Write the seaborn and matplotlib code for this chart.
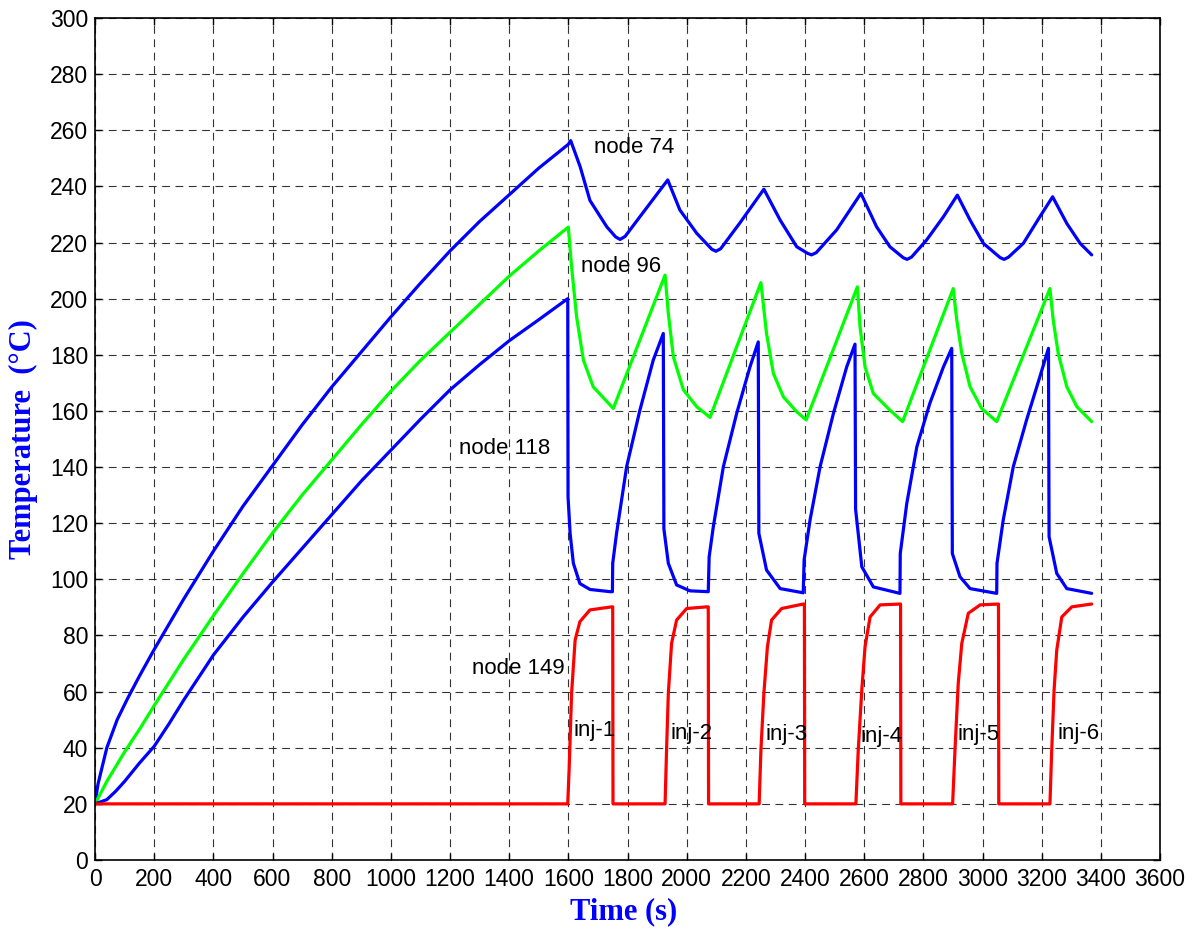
import pandas as pd
import seaborn as sns
import matplotlib.pyplot as plt

# node 74 (upper blue)
t74 = [0, 10, 40, 75, 110, 150, 200, 300, 400, 500, 600, 700, 800, 900, 1000, 1100, 1200, 1300, 1400, 1500, 1600,
       1608, 1640, 1673, 1730, 1760, 1775, 1792, 1842, 1936, 1977, 2034, 2085, 2099, 2115, 2180, 2261, 2316, 2372,
       2408, 2422, 2438, 2507, 2589, 2642, 2687, 2732, 2745, 2760, 2811, 2868, 2915, 2958, 3003, 3060, 3073, 3088,
       3138, 3194, 3237, 3285, 3330, 3369]
T74 = [20, 27, 40, 50, 57.5, 65.5, 75, 93, 110, 126, 140.5, 155, 168.5, 181, 193.5, 205.5, 217, 227.5, 237, 246.5, 255,
       256.3, 247, 235, 225.6, 222, 221.1, 222.2, 229.2, 242.3, 231.6, 223.3, 217.6, 216.9, 217.8, 227, 239, 228, 218.5,
       216.2, 215.6, 216.4, 224.5, 237.5, 225.6, 218.5, 214.6, 214, 214.8, 220.9, 229.2, 236.9, 228, 219.7, 214.6, 214, 214.8,
       219.7, 229.2, 236.3, 226.8, 219.7, 215.6]

# node 96 (green)
t96 = [0, 40, 100, 150, 200, 300, 400, 500, 600, 700, 800, 900, 1000, 1100, 1200, 1300, 1400, 1500, 1600,
       1611, 1628, 1651, 1684, 1752, 1927, 1938, 1955, 1989, 2034, 2079, 2251, 2270, 2293, 2327, 2372, 2404,
       2577, 2586, 2603, 2631, 2687, 2730, 2901, 2913, 2930, 2958, 2997, 3048, 3228, 3239, 3256, 3285, 3319, 3369]
T96 = [20, 28, 38.5, 46.5, 55, 71.5, 87, 102, 116.5, 130, 142.5, 155, 167, 178, 188, 198, 208, 217, 225.5,
       211.3, 193.5, 178.1, 168.6, 160.9, 208.4, 194.7, 179.3, 167.5, 161.5, 157.7, 205.7, 187.6, 173.4, 165, 159.7, 156.8,
       204.2, 190, 175.7, 166.2, 160.3, 156.2, 203.6, 192.4, 180.5, 168.6, 160.9, 156.2, 203.6, 192.4, 180.5, 168.6, 161.5, 156.2]

# node 118 (lower blue)
t118 = [0, 40, 70, 100, 150, 200, 250, 300, 400, 500, 600, 700, 800, 900, 1000, 1100, 1200, 1300, 1400, 1500, 1598,
        1599, 1606, 1617, 1639, 1673, 1741, 1749,
        1750, 1763, 1797, 1842, 1887, 1921,
        1923, 1938, 1966, 2011, 2073,
        2076, 2090, 2124, 2169, 2214, 2242,
        2244, 2270, 2316, 2394,
        2397, 2417, 2451, 2496, 2541, 2569,
        2571, 2592, 2631, 2721,
        2722, 2744, 2778, 2822, 2868, 2896,
        2898, 2924, 2958, 3037, 3048,
        3049, 3070, 3104, 3149, 3194, 3223,
        3225, 3251, 3285, 3369]
T118 = [20, 21.5, 24.5, 28, 34.5, 40.5, 48.5, 57, 73, 86.5, 99, 111, 123, 135, 146, 157, 167.5, 176.5, 185, 192.5, 200,
        129.4, 116.4, 105.7, 98.5, 96.4, 95.6, 95.6,
        105.7, 116.4, 140.1, 160.3, 178.1, 187.6,
        118, 105.7, 98, 95.9, 95.6,
        108, 118.7, 140.1, 159.1, 175.7, 184.6,
        116.4, 103.3, 96.7, 95.2,
        106.9, 121.1, 140.1, 159.1, 175.7, 183.8,
        125, 104.5, 97.3, 95,
        109.2, 127, 147.2, 162.7, 175.7, 182.3,
        109.2, 100.9, 96.7, 95.2, 95,
        105.7, 121.1, 140.1, 156.8, 172.2, 182.3,
        115.2, 102.1, 96.7, 95]

# node 149 (red)
t149 = [0, 1598, 1603, 1611, 1623, 1639, 1673, 1747, 1750, 1751,
        1927, 1932, 1938, 1949, 1966, 2000, 2068, 2073, 2074,
        2245, 2251, 2261, 2273, 2287, 2321, 2394, 2398, 2399,
        2572, 2580, 2592, 2603, 2620, 2654, 2723, 2724,
        2899, 2907, 2918, 2930, 2952, 2992, 3054, 3055,
        3228, 3234, 3242, 3251, 3268, 3302, 3369]
T149 = [20, 20, 33.2, 59.4, 78.4, 84.9, 89.1, 90.2, 90.2, 20,
        20, 39.2, 59.4, 77.2, 85.5, 89.6, 90.2, 90.2, 20,
        20, 39.2, 59.4, 76, 85.5, 89.6, 91.2, 91.2, 20,
        20, 39.2, 60.6, 76, 86.6, 90.9, 91.2, 20,
        20, 39.2, 62.9, 77.2, 87.9, 90.9, 91.2, 20,
        20, 39.2, 60.6, 74.8, 86.6, 90.2, 91.2]

sns.set_style("ticks")
plt.rcParams['font.family'] = ['Liberation Sans', 'DejaVu Sans']

fig = plt.figure(figsize=(11.99, 9.33), dpi=100)
ax = fig.add_axes([95 / 1199, 73 / 933, 1065 / 1199, 842 / 933])

series = [(t74, T74, '#0000ff'), (t96, T96, '#00ff00'), (t118, T118, '#0000ff'), (t149, T149, '#ff0000')]
for t, T, c in series:
    df = pd.DataFrame({'t': t, 'T': T})
    sns.lineplot(data=df, x='t', y='T', sort=False, estimator=None, color=c, lw=2.3, ax=ax)

ax.set_xlim(0, 3600)
ax.set_ylim(0, 300)
ax.set_xticks(range(0, 3601, 200))
ax.set_yticks(range(0, 301, 20))
ax.grid(True, color='#333333', lw=0.8, linestyle=(0, (7, 5)))
ax.tick_params(direction='in', length=5, width=1, top=True, right=True, labelsize=16.5, colors='black')
ax.tick_params(axis='y', pad=5)
ax.tick_params(axis='x', pad=6)
for s in ax.spines.values():
    s.set_linewidth(1.2)
    s.set_color('black')

lab = dict(family='Liberation Serif', fontweight='bold', color='#0000ff', fontsize=22)
ax.set_xlabel('Time (s)', **lab)
ax.set_ylabel('Temperature  (°C)', **lab)
ax.xaxis.set_label_coords(0.496, -0.044)
ax.yaxis.set_label_coords(-0.0535, 0.5)

txt = dict(fontsize=16, color='black', ha='left', va='center')
ax.text(1687, 254, 'node 74', **txt)
ax.text(1642, 211.4, 'node 96', **txt)
ax.text(1231, 146.6, 'node 118', **txt)
ax.text(1273, 68.3, 'node 149', **txt)
for x, y, s in [(1619, 46.3, 'inj-1'), (1946, 45.1, 'inj-2'), (2267, 44.7, 'inj-3'),
                (2588, 43.9, 'inj-4'), (2915, 44.7, 'inj-5'), (3253, 45.1, 'inj-6')]:
    ax.text(x, y, s, **txt)

fig.savefig('out.png', dpi=100)
